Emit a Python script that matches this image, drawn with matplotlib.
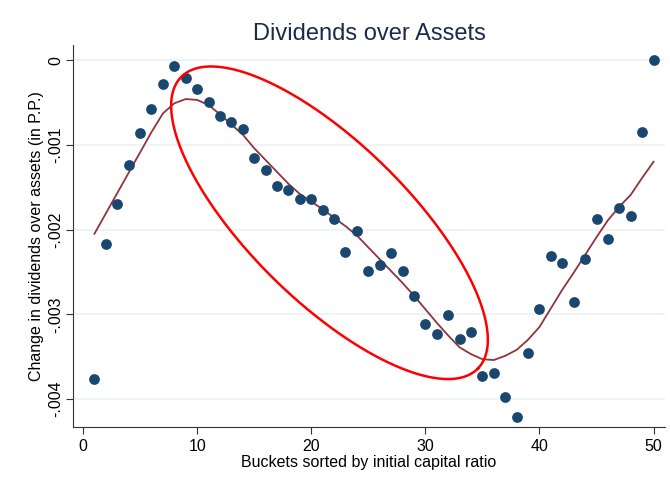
import matplotlib.pyplot as plt
import numpy as np

plt.rcParams['font.family'] = ['Liberation Sans', 'DejaVu Sans']

# buckets 1..50
buckets = list(range(1, 51))
div_change = [-0.00376, -0.00217, -0.00170, -0.00124, -0.00086, -0.00058, -0.00028, -0.00007, -0.00021, -0.00034,
              -0.00050, -0.00066, -0.00073, -0.00081, -0.00116, -0.00130, -0.00149, -0.00153, -0.00164, -0.00164,
              -0.00177, -0.00188, -0.00227, -0.00202, -0.00249, -0.00242, -0.00228, -0.00249, -0.00278, -0.00311,
              -0.00323, -0.00301, -0.00329, -0.00321, -0.00373, -0.00369, -0.00398, -0.00421, -0.00346, -0.00294,
              -0.00231, -0.00240, -0.00286, -0.00235, -0.00188, -0.00211, -0.00175, -0.00184, -0.00085, 0.0]
# smoothed fit
fit = [-0.00205, -0.00181, -0.00157, -0.00133, -0.00109, -0.00085, -0.00063, -0.00051, -0.00046, -0.00047,
       -0.00053, -0.00064, -0.00076, -0.00088, -0.00104, -0.00118, -0.00132, -0.00146, -0.00158, -0.00167,
       -0.00176, -0.00186, -0.00196, -0.00207, -0.00221, -0.00235, -0.00249, -0.00263, -0.00278, -0.00294,
       -0.00310, -0.00325, -0.00339, -0.00347, -0.00353, -0.00354, -0.00349, -0.00342, -0.00330, -0.00315,
       -0.00293, -0.00271, -0.00251, -0.00230, -0.00209, -0.00189, -0.00173, -0.00159, -0.00139, -0.00120]

yticks = [0, -0.001, -0.002, -0.003, -0.004]
ytick_labels = ['0', '-.001', '-.002', '-.003', '-.004']

fig = plt.figure(figsize=(6.7, 4.9), dpi=100)
ax = fig.add_axes([0.109, 0.1286, 0.8835, 0.7794])

ax.scatter(buckets, div_change, s=60, color='#1a476f', zorder=3, linewidths=0)
ax.plot(buckets, fit, color='#90353b', lw=1.3, zorder=2)

# red ellipse, drawn in pixel units then mapped to data
xlo, xhi = -0.876, 51.0
ylo, yhi = -0.00433, 0.000177
ax.set_xlim(xlo, xhi)
ax.set_ylim(ylo, yhi)
px_x = (xhi - xlo) / (0.8835 * 670)
px_y = (yhi - ylo) / (0.7794 * 490)
t = np.linspace(0, 2 * np.pi, 400)
A, B, ang = 208, 79, np.deg2rad(-44.5)
ex = A * np.cos(t) * np.cos(ang) - B * np.sin(t) * np.sin(ang)
ey = A * np.cos(t) * np.sin(ang) + B * np.sin(t) * np.cos(ang)
ax.plot(21.6 + ex * px_x, -0.00192 + ey * px_y, color='red', lw=1.8, zorder=4)

ax.set_yticks(yticks)
ax.set_yticklabels(ytick_labels, rotation=90, va='center')
ax.set_xticks([0, 10, 20, 30, 40, 50])
ax.tick_params(labelsize=11.5, color='#333333', length=5)
ax.tick_params(axis='y', pad=2)
ax.grid(axis='y', color='#eaf2f3', lw=1.2)
ax.set_axisbelow(True)
for s in ['top', 'right']:
    ax.spines[s].set_visible(False)
for s in ['left', 'bottom']:
    ax.spines[s].set_color('#333333')

ax.set_title('Dividends over Assets', fontsize=17, color='#1a2b4c', pad=2)
ax.set_xlabel('Buckets sorted by initial capital ratio', fontsize=11.5, labelpad=1)
ax.set_ylabel('Change in dividends over assets (in P.P.)', fontsize=11.5, labelpad=3)

fig.savefig('out.png', dpi=100)
